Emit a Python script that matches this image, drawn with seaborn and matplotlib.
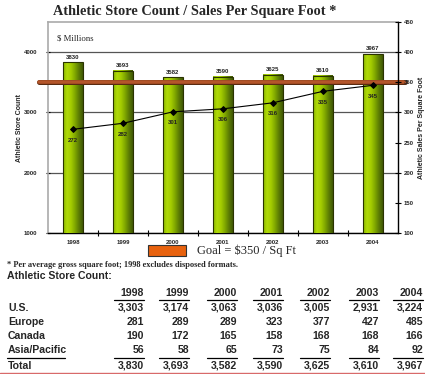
import numpy as np
import matplotlib
matplotlib.use("Agg")
import matplotlib.pyplot as plt
import seaborn as sns
from matplotlib.colors import LinearSegmentedColormap
from matplotlib.patches import Patch
from matplotlib.lines import Line2D
import matplotlib.patheffects as pe

# ---- data ----
years = ["1998", "1999", "2000", "2001", "2002", "2003", "2004"]
store_count = [3830, 3693, 3582, 3590, 3625, 3610, 3967]
sales_per_sqft = [272, 282, 301, 306, 316, 335, 345]
goal = 350
left_ticks = [1000, 2000, 3000, 4000]
right_ticks = [100, 150, 200, 250, 300, 350, 400, 450]

row_labels = ["U.S.", "Europe", "Canada", "Asia/Pacific", "Total"]
us = ["3,303", "3,174", "3,063", "3,036", "3,005", "2,931", "3,224"]
europe = ["281", "289", "289", "323", "377", "427", "485"]
canada = ["190", "172", "165", "158", "168", "168", "166"]
asia = ["56", "58", "65", "73", "75", "84", "92"]
total = ["3,830", "3,693", "3,582", "3,590", "3,625", "3,610", "3,967"]

sns.set_theme(style="white")
plt.rcParams["font.family"] = ["Liberation Sans", "DejaVu Sans"]

W, H = 425, 374
fig = plt.figure(figsize=(W / 100, H / 100), dpi=100)
fig.patch.set_facecolor("white")

def fx(px):
    return px / W

def fy(py):
    return 1 - py / H

ax = fig.add_axes([fx(48), fy(233), fx(398) - fx(48), fy(22) - fy(233)])
ax.set_facecolor("white")

sns.barplot(x=years, y=store_count, ax=ax, width=0.4, color="#8ab400",
            edgecolor="#2a3300", linewidth=0.8, zorder=3)
ax.set_xlim(-0.5, len(years) - 0.5)
ax.set_ylim(1000, 4500)
ybot = ax.get_ylim()[0]

# gradient fill for bars
cmap = LinearSegmentedColormap.from_list(
    "g", ["#8cb800", "#b0da08", "#a4cc00", "#80a800", "#5c7c04", "#405805"])
grad = np.linspace(0, 1, 64).reshape(1, -1)
for p in list(ax.patches):
    x0, y0, w, h = p.get_x(), p.get_y(), p.get_width(), p.get_height()
    im = ax.imshow(grad, cmap=cmap, aspect="auto",
                   extent=[x0, x0 + w, max(y0, ybot), y0 + h], zorder=2.9)
    im.set_clip_path(p)
    im.set_clip_box(ax.bbox)
    p.set_facecolor("none")
ax.set_xlim(-0.5, len(years) - 0.5)
ax.set_ylim(1000, 4500)

ax.bar_label(ax.containers[0], labels=[str(v) for v in store_count],
             fontsize=4.3, fontweight="bold", padding=2, color="#222")

# grid
ax.set_yticks(left_ticks)
ax.yaxis.grid(True, color="#555555", linewidth=0.9)
ax.set_axisbelow(True)
ax.tick_params(axis="y", which="major", direction="inout", length=3,
               width=0.8, color="black", labelsize=4.3, pad=6)
for t in ax.get_yticklabels():
    t.set_fontweight("bold")
ax.set_xticks(range(len(years)))
ax.set_xticks(np.arange(0.5, len(years) - 0.5, 1), minor=True)
ax.tick_params(axis="x", which="major", length=0, labelsize=4.3, pad=5)
ax.tick_params(axis="x", which="minor", direction="inout", length=5,
               width=0.8, color="black", bottom=True)
for t in ax.get_xticklabels():
    t.set_fontweight("bold")
ax.set_xlabel("")
ax.set_ylabel("Athletic Store Count", fontsize=5, fontweight="bold", labelpad=1)

for s in ["left", "top"]:
    ax.spines[s].set_color("#aaaaaa")
    ax.spines[s].set_linewidth(1.2)
ax.spines["bottom"].set_color("black")
ax.spines["bottom"].set_linewidth(1.0)
ax.spines["right"].set_visible(False)

# goal line
ax.axhline(3500, xmin=-0.025, xmax=1.02, color="#b4552a", linewidth=2.6,
           clip_on=False, zorder=5,
           path_effects=[pe.Stroke(linewidth=3.6, foreground="#5a2a10"), pe.Normal()])

# secondary axis
ax2 = ax.twinx()
xs = np.arange(len(years))
sns.lineplot(x=xs, y=sales_per_sqft, ax=ax2, color="black", linewidth=0.8,
             marker="D", markersize=3, markeredgecolor="black", zorder=6)
ax2.set_ylim(100, 450)
ax2.set_xlim(-0.5, len(years) - 0.5)
ax2.set_yticks(right_ticks)
ax2.tick_params(axis="y", direction="inout", length=4, width=0.8,
                color="black", labelsize=4.3, pad=2)
for t in ax2.get_yticklabels():
    t.set_fontweight("bold")
for s in ["left", "top", "bottom"]:
    ax2.spines[s].set_visible(False)
ax2.spines["right"].set_color("black")
ax2.spines["right"].set_linewidth(1.0)
ax2.set_ylabel("Athletic Sales Per Square Foot", fontsize=5, fontweight="bold",
               labelpad=3)
for xi, v in zip(xs, sales_per_sqft):
    ax2.annotate(str(v), (xi, v), xytext=(0, -8), textcoords="offset points",
                 ha="center", va="center", fontsize=4.3, fontweight="bold",
                 color="#222")

# texts
fig.text(fx(195), fy(12), "Athletic Store Count / Sales Per Square Foot *",
         ha="center", va="center", fontsize=10.3, fontweight="bold",
         family="Liberation Serif")
ax.text(0.026, 0.92, "$ Millions", transform=ax.transAxes, ha="left",
        va="center", fontsize=6.3, family="Liberation Serif")

leg = fig.legend(handles=[Patch(facecolor="#e8620e", edgecolor="#333333",
                                linewidth=0.8)],
                 labels=["Goal = $350 / Sq Ft"], loc="center",
                 bbox_to_anchor=(fx(222), fy(251)), frameon=False,
                 handlelength=3.0, handleheight=1.0, handletextpad=0.9,
                 prop={"family": "Liberation Serif", "size": 9})

fig.text(fx(7), fy(265), "* Per average gross square foot; 1998 excludes disposed formats.",
         ha="left", va="center", fontsize=6.0, fontweight="bold",
         family="Liberation Serif")
fig.text(fx(7), fy(276), "Athletic Store Count:", ha="left", va="center",
         fontsize=7.6, fontweight="bold")

# table
col_right = [144, 189, 237, 283, 330, 379, 423]
header_y = 293
row_y = [308, 322, 336, 350, 366]
rows = [us, europe, canada, asia, total]
for cx, yr in zip(col_right, years):
    fig.text(fx(cx), fy(header_y), yr, ha="right", va="center",
             fontsize=7.6, fontweight="bold")
    fig.add_artist(Line2D([fx(cx - 30), fx(cx)], [fy(299.5), fy(299.5)],
                          color="black", linewidth=0.9))
    fig.add_artist(Line2D([fx(cx - 30), fx(cx)], [fy(357.5), fy(357.5)],
                          color="black", linewidth=0.9))
fig.add_artist(Line2D([fx(7), fx(65)], [fy(357.5), fy(357.5)],
                      color="black", linewidth=0.9))
for lab, ry, vals in zip(row_labels, row_y, rows):
    fig.text(fx(8), fy(ry), lab, ha="left", va="center", fontsize=7.6,
             fontweight="bold")
    for cx, v in zip(col_right, vals):
        fig.text(fx(cx), fy(ry), v, ha="right", va="center", fontsize=7.6,
                 fontweight="bold")

fig.add_artist(Line2D([0, 1], [fy(372.5), fy(372.5)], color="#d86a6a",
                      linewidth=1.0))

fig.savefig("out.png", dpi=100)
